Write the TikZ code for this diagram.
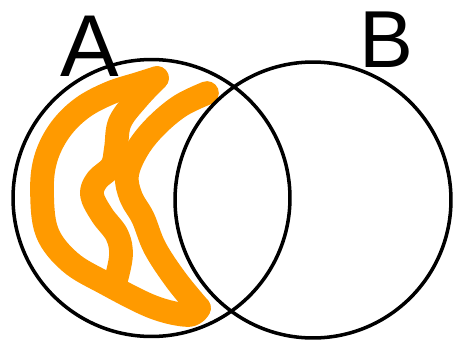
\documentclass[tikz,border=0pt]{standalone}
\usepackage{fontspec}
\setmainfont{Liberation Sans}
\definecolor{scrib}{HTML}{FF9A00}
\tikzset{
  setc/.style={circle, draw=black, line width=2pt, inner sep=0pt},
  lbl/.style={inner sep=0pt, anchor=south},
  hatch/.style={draw=scrib, line width=13.5pt, line cap=round, line join=round},
}

\begin{document}
\begin{tikzpicture}[x=0.02cm, y=-0.02cm]
  \useasboundingbox (0,0) rectangle (454,342);
  % ---------------- shading of A only ----------------
  \draw[hatch] plot[smooth, tension=0.6] coordinates {(207,93) (180,106) (155,127) (137,150) (127,175) (131,197) (143,218) (155,248) (176,280) (199,308)};
  \draw[hatch] plot[smooth, tension=0.6] coordinates {(199,308) (188,315) (153,307) (105,283) (70,262) (47,232) (42,190) (46,158) (60,130) (82,108) (110,93) (138,84) (157,78)};
  \draw[hatch] plot[smooth, tension=0.6] coordinates {(157,78) (138,98) (120,122) (116,148) (112,166) (97,180) (92,195) (102,215) (117,235) (121,255) (116,280)};

  % ---------------- the two sets ----------------
  \node[setc, minimum size=5.54cm] (setA) at (151.5,198) {};
  \node[setc, minimum size=5.52cm] (setB) at (313,200) {};
  \node[lbl, font=\fontsize{50}{50}\selectfont] (labA) at (90,77) {A};
  \node[lbl, font=\fontsize{46}{46}\selectfont] (labB) at (386,68) {B};
\end{tikzpicture}
\end{document}
